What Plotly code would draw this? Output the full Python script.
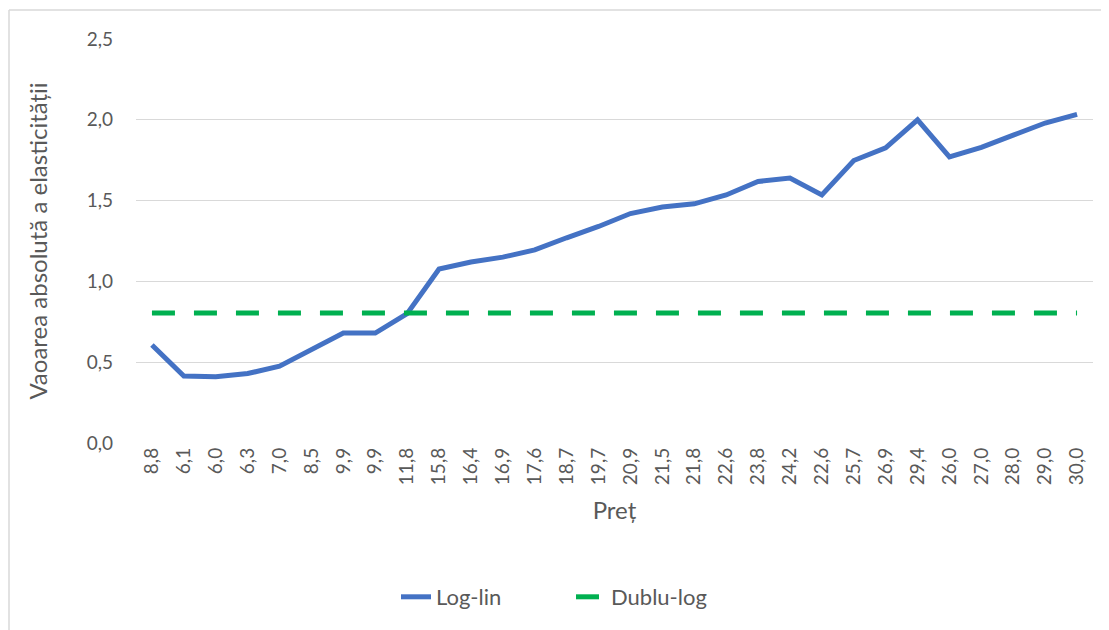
import plotly.graph_objects as go

# Prices on the category axis (kept as shown, duplicates included)
PRICES = ["8,8", "6,1", "6,0", "6,3", "7,0", "8,5", "9,9", "9,9", "11,8", "15,8",
          "16,4", "16,9", "17,6", "18,7", "19,7", "20,9", "21,5", "21,8", "22,6", "23,8",
          "24,2", "22,6", "25,7", "26,9", "29,4", "26,0", "27,0", "28,0", "29,0", "30,0"]
LOG_LIN = [0.606, 0.415, 0.41, 0.43, 0.475, 0.58, 0.68, 0.68, 0.80, 1.077,
           1.12, 1.15, 1.195, 1.27, 1.34, 1.42, 1.46, 1.48, 1.535, 1.618,
           1.64, 1.535, 1.748, 1.827, 2.0, 1.77, 1.83, 1.905, 1.98, 2.034]
DUBLU_LOG = [0.805] * len(PRICES)

BLUE, GREEN = "#4472C4", "#00B050"
TXT = "#595959"
FONT = "Lato, Carlito, Calibri, sans-serif"

x = list(range(len(PRICES)))

fig = go.Figure()
fig.add_trace(go.Scatter(x=x, y=LOG_LIN, mode="lines", name="Log-lin",
                         line=dict(color=BLUE, width=5)))
fig.add_trace(go.Scatter(x=x, y=DUBLU_LOG, mode="lines", name="Dublu-log",
                         line=dict(color=GREEN, width=5, dash="23px,19px")))

# page has an 8px body margin, so the figure is a bit smaller than the window
W, H = 1101, 622
L, R, T, B = 128, 16, 31, 187
pw, ph = W - L - R, H - T - B

fig.update_layout(
    width=W, height=H,
    template="plotly_white",
    plot_bgcolor="white", paper_bgcolor="white",
    font=dict(family=FONT, size=19, color=TXT),
    separators=",.",
    margin=dict(l=L, r=R, t=T, b=B),
    legend=dict(orientation="h", x=(571 - 8 - L) / pw, xanchor="center",
                y=(H - B - 589) / ph, yanchor="middle",
                entrywidth=130, entrywidthmode="pixels",
                font=dict(size=22, color=TXT), traceorder="normal"),
)
fig.update_xaxes(
    tickmode="array", tickvals=x, ticktext=PRICES, tickangle=-90,
    range=[-0.5, len(PRICES) - 0.5], showgrid=False, zeroline=False,
    showline=False, ticks="", tickfont=dict(size=19, color=TXT),
    title=dict(text="Preț", font=dict(size=24, color=TXT), standoff=18),
)
fig.update_yaxes(
    range=[0, 2.5], dtick=0.5, tickformat=".1f",
    showgrid=True, gridcolor="#D9D9D9", gridwidth=1.3, zeroline=False,
    ticks="", ticklabelstandoff=22, tickfont=dict(size=19, color=TXT),
    title=dict(text="Vaoarea absolută a elasticității", font=dict(size=24, color=TXT), standoff=32),
)

# chart-area border (top and left edges visible in the crop)
x0 = (1 - L) / pw
y0 = (H - B - 2) / ph
fig.add_shape(type="line", xref="paper", yref="paper", x0=x0, x1=1.2, y0=y0, y1=y0,
              line=dict(color="#D9D9D9", width=1.5))
fig.add_shape(type="line", xref="paper", yref="paper", x0=x0, x1=x0, y0=y0, y1=-1,
              line=dict(color="#D9D9D9", width=1.5))

fig.write_html("out.html")
